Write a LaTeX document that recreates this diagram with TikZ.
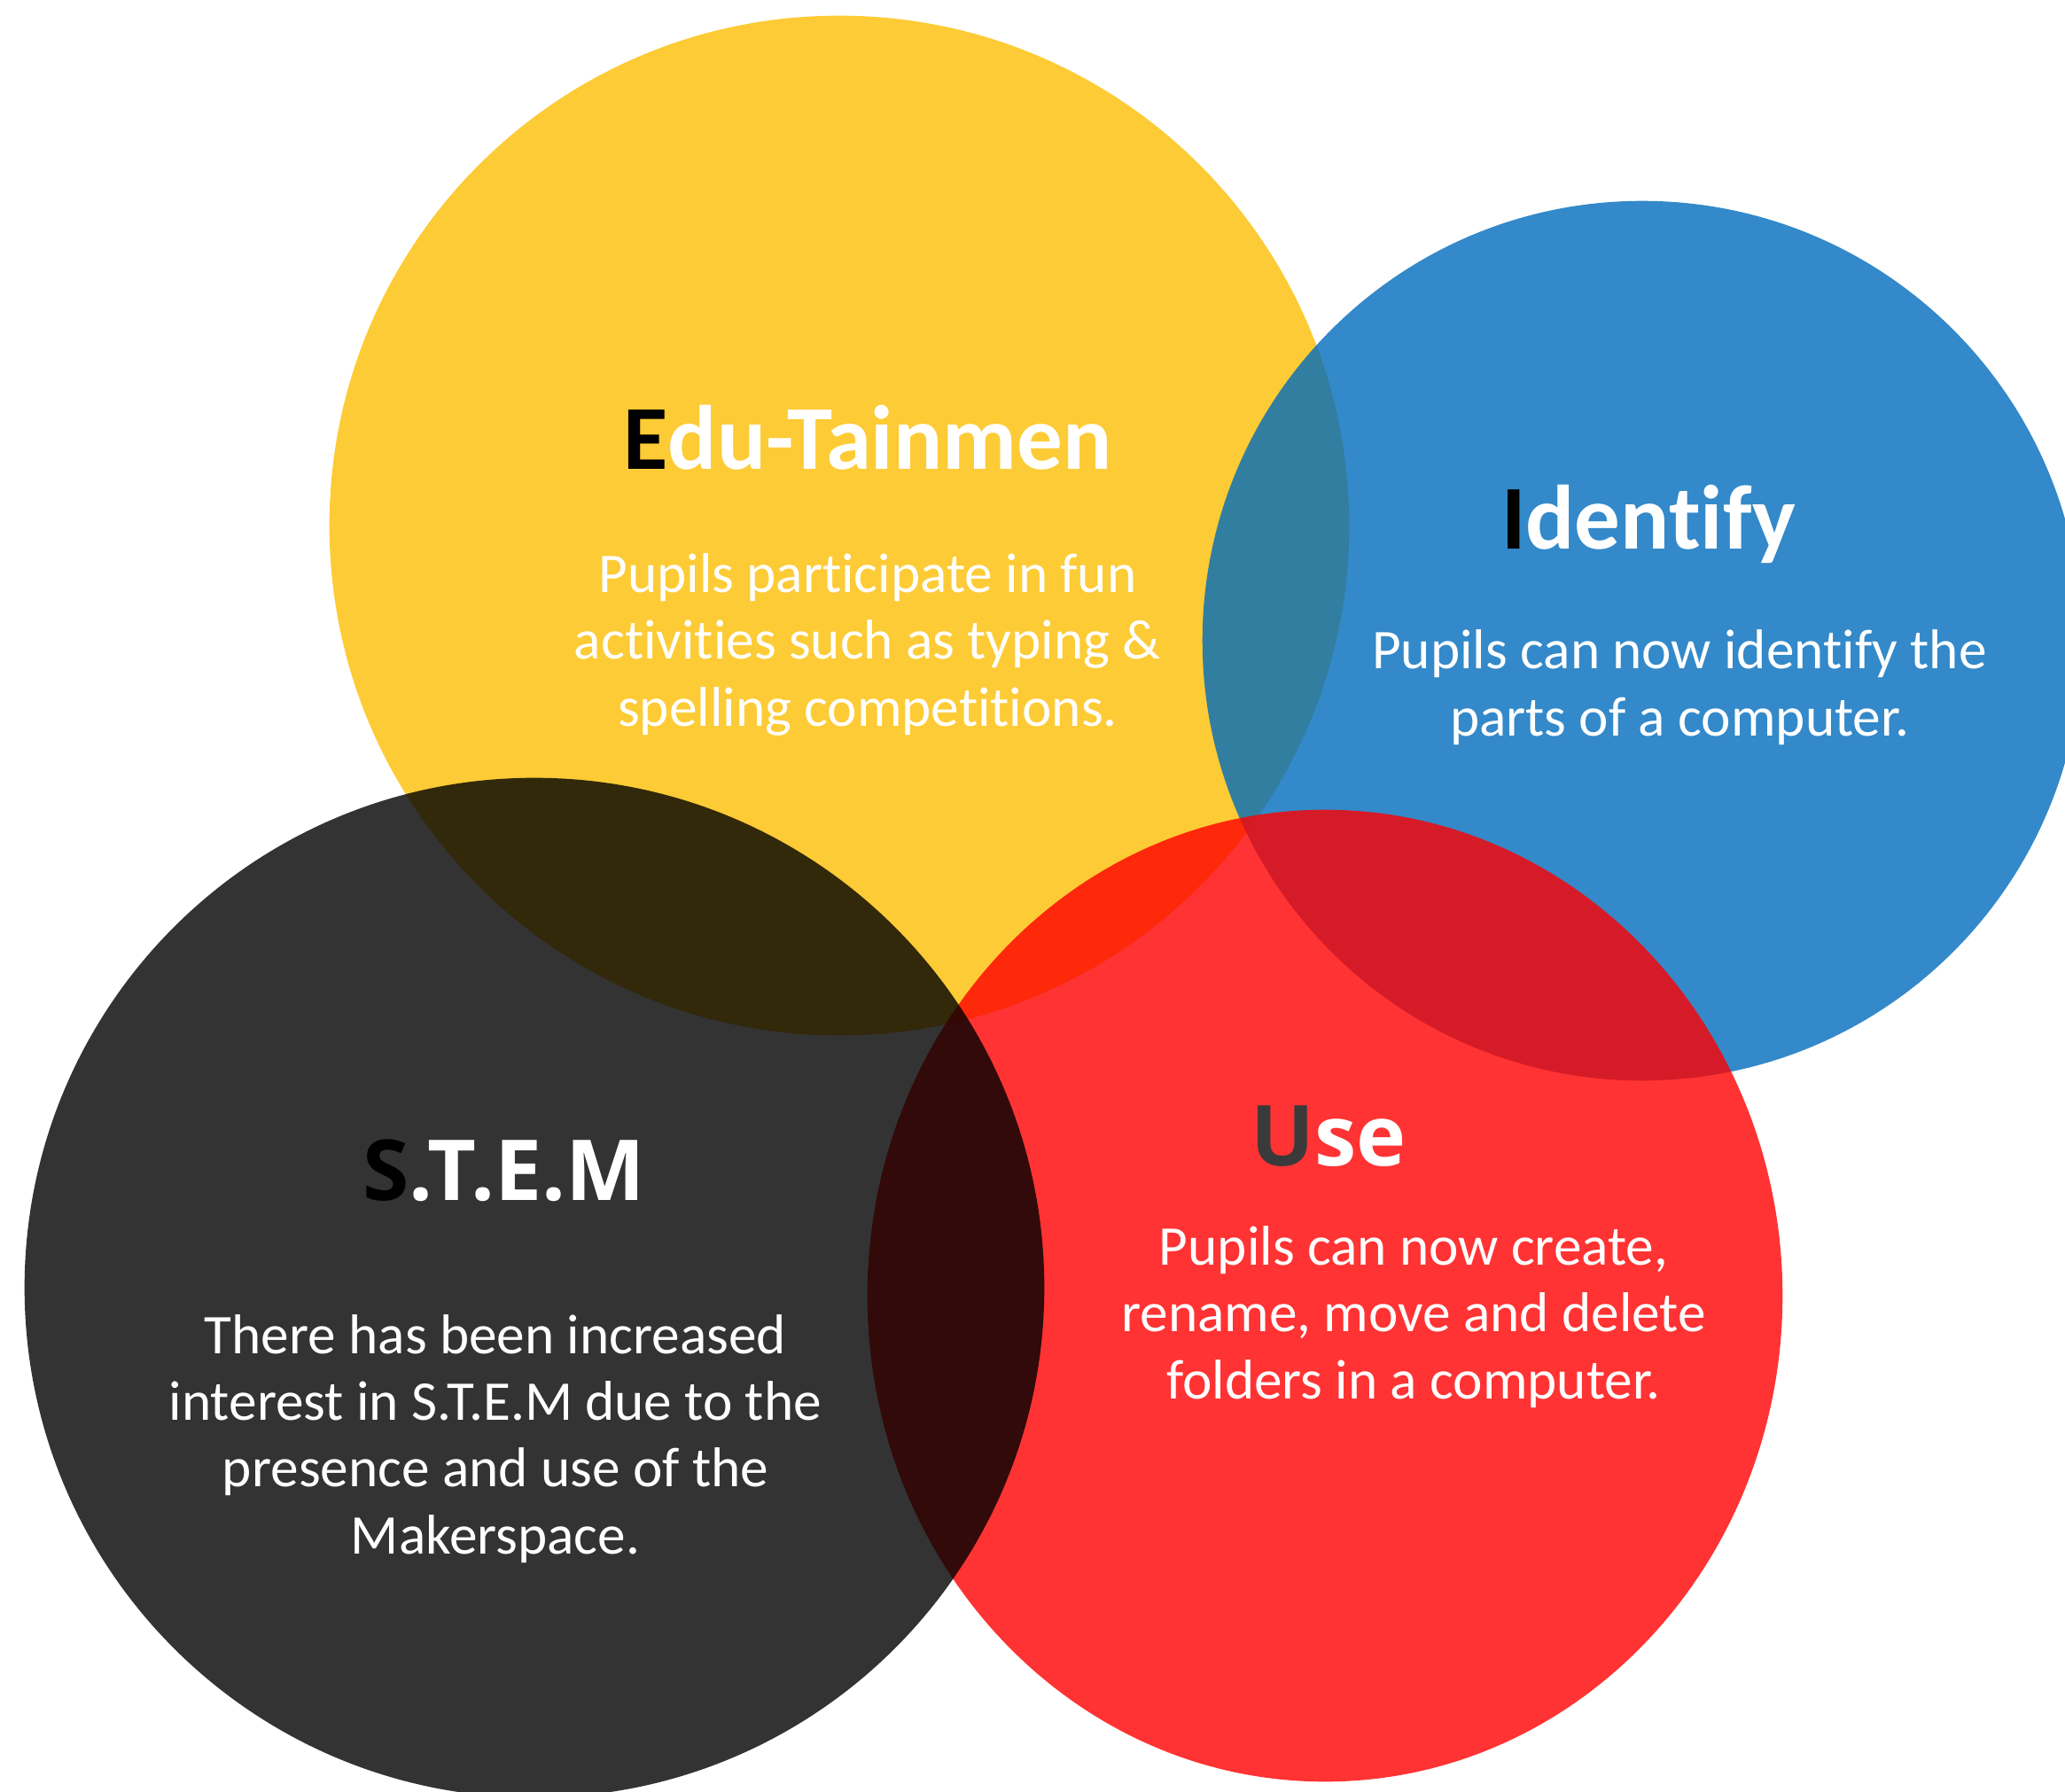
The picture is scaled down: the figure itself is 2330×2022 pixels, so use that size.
\documentclass[tikz,border=0pt]{standalone}
\usepackage{fontspec}
\setmainfont{Carlito}[Ligatures=NoCommon]
\newfontfamily\headfont{Open Sans}
\usepackage{tikz}
\usetikzlibrary{positioning, shapes}
\definecolor{eduYellow}{RGB}{252,190,2}
\definecolor{idBlue}{RGB}{0,108,188}
\definecolor{useRed}{RGB}{255,0,0}
\definecolor{useGrey}{RGB}{58,58,58}
\tikzstyle{bubble}=[circle, inner sep=0pt, fill opacity=0.8]
\tikzstyle{heading}=[text=white, inner sep=0pt, anchor=base, font=\bfseries\fontsize{29.3}{34}\selectfont]
\tikzstyle{roundhead}=[heading, font=\headfont\bfseries\fontsize{27}{32}\selectfont]
\tikzstyle{blurb}=[text=white, inner sep=0pt, align=center, font=\fontsize{18}{21.4}\selectfont]

\begin{document}
\begin{tikzpicture}[x=0.01cm, y=-0.01cm]
	\useasboundingbox (0,0) rectangle (2330,2022);
	\clip (0,0) rectangle (2330,2022);
	% the four circles
	\node[bubble, fill=eduYellow, minimum size=11.5cm] (edu) at (947,593) {};
	\node[bubble, fill=idBlue, minimum size=9.92cm] (identify) at (1853,723) {};
	\node[bubble, ellipse, fill=useRed, minimum width=10.32cm, minimum height=10.96cm] (use) at (1495,1462) {};
	\node[bubble, fill=black, minimum size=11.5cm] (stem) at (603,1453) {};
	% titles
	\node[heading] (eduTitle) at (979,530) {\textcolor{black}{E}du-Tainmen};
	\node[heading] (identifyTitle) at (1860,620) {\textcolor{black}{I}dentify};
	\node[roundhead] (stemTitle) at (569,1354) {\textcolor{black}{S}.T.E.M};
	\node[roundhead] (useTitle) at (1499,1315) {\textcolor{useGrey}{U}se};
	% texts (base = last line)
	\node[blurb, below=2.89cm of eduTitle.base, anchor=base] (eduText) {Pupils participate in fun\\activities such as typing \&\\spelling competitions.};
	\node[blurb, below=2.1cm of identifyTitle.base, anchor=base, xshift=0.35cm] (identifyText) {Pupils can now identify the\\parts of a computer.};
	\node[blurb, below=3.99cm of stemTitle.base, anchor=base, xshift=-0.1cm] (stemText) {There has been increased\\interest in S.T.E.M due to the\\presence and use of the\\Makerspace.};
	\node[blurb, below=2.63cm of useTitle.base, anchor=base, xshift=0.96cm] (useText) {Pupils can now create,\\rename, move and delete\\folders in a computer.};
\end{tikzpicture}
\end{document}
